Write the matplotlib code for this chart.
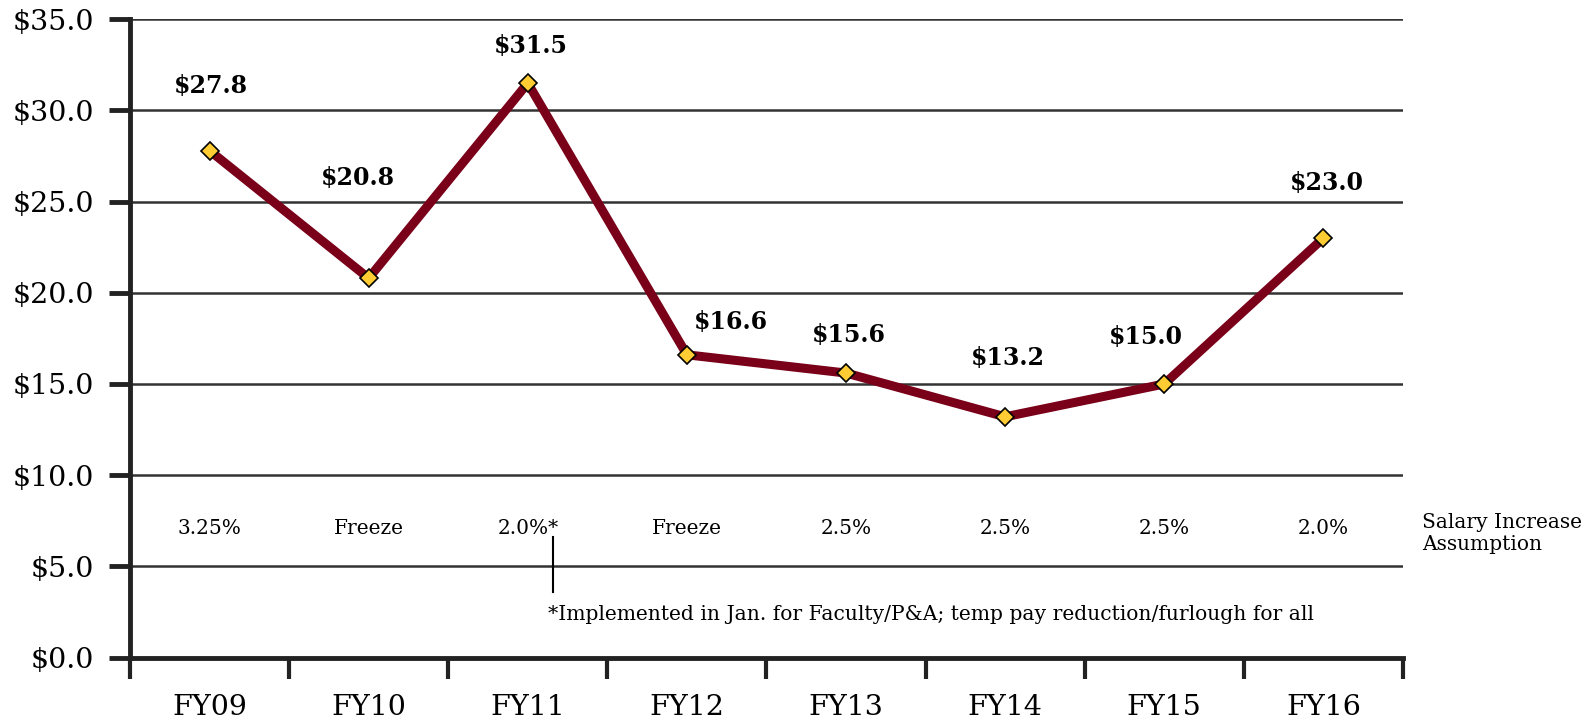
import numpy as np
import matplotlib
matplotlib.use("Agg")
import matplotlib.pyplot as plt

# 데이터
years = ["FY09", "FY10", "FY11", "FY12", "FY13", "FY14", "FY15", "FY16"]
values = [27.8, 20.8, 31.5, 16.6, 15.6, 13.2, 15.0, 23.0]
salary_increase = ["3.25%", "Freeze", "2.0%*", "Freeze", "2.5%", "2.5%", "2.5%", "2.0%"]
footnote = "*Implemented in Jan. for Faculty/P&A; temp pay reduction/furlough for all"

# 라벨 위치 (offset pixels)
label_offsets = [(1, 65), (-11, 100), (3, 37), (44, 33), (3, 38), (3, 59), (-18, 47), (3, 55)]

plt.rcParams['font.family'] = ['DejaVu Serif']

fig = plt.figure(figsize=(15.91, 7.25), dpi=100)
ax = fig.add_axes([0.0817, 0.0931, 0.8001, 0.8803])

x = np.arange(len(years))

# gridlines
for yv in np.arange(5, 36, 5):
    ax.axhline(yv, color="#333333", lw=1.8, zorder=1)

ax.plot(x, values, color="#7a0019", lw=6.5, marker="D", markersize=9,
        markerfacecolor="#ffcc33", markeredgecolor="black", markeredgewidth=1.2,
        zorder=3, solid_joinstyle="miter")

for i, v in enumerate(values):
    ax.annotate(f"${v:.1f}", (x[i], v), xytext=label_offsets[i],
                textcoords="offset pixels", ha="center", va="center",
                fontsize=17, fontweight="bold")

# salary increase row
for i, s in enumerate(salary_increase):
    ax.text(x[i], 7.1, s, ha="center", va="center", fontsize=14.5)
ax.text(7.62, 6.8, "Salary Increase\nAssumption", ha="left", va="center",
        fontsize=14.5, clip_on=False, linespacing=1.2)

# footnote marker
ax.plot([2.16, 2.16], [3.6, 6.6], color="black", lw=1.5, zorder=2)
ax.text(2.13, 2.35, footnote, ha="left", va="center", fontsize=14.6)

ax.set_xlim(-0.5, 7.5)
ax.set_ylim(0, 35)

ax.set_yticks(np.arange(0, 36, 5))
ax.set_yticklabels([f"${t:.1f}" for t in np.arange(0, 36, 5)], fontsize=20.5)

ax.set_xticks(np.arange(-0.5, 8, 1))
ax.set_xticklabels([])
ax.set_xticks(x, minor=True)
ax.set_xticklabels(years, minor=True, fontsize=20.5)
ax.tick_params(axis="x", which="major", direction="out", length=15, width=3, color="#222222")
ax.tick_params(axis="x", which="minor", length=0, pad=26)
ax.tick_params(axis="y", direction="out", length=15, width=3.5, color="#222222", pad=11)

for s in ["top", "right"]:
    ax.spines[s].set_visible(False)
ax.spines["left"].set_linewidth(3.5)
ax.spines["left"].set_color("#222222")
ax.spines["bottom"].set_linewidth(3.5)
ax.spines["bottom"].set_color("#222222")

fig.savefig("out.png", dpi=100)
